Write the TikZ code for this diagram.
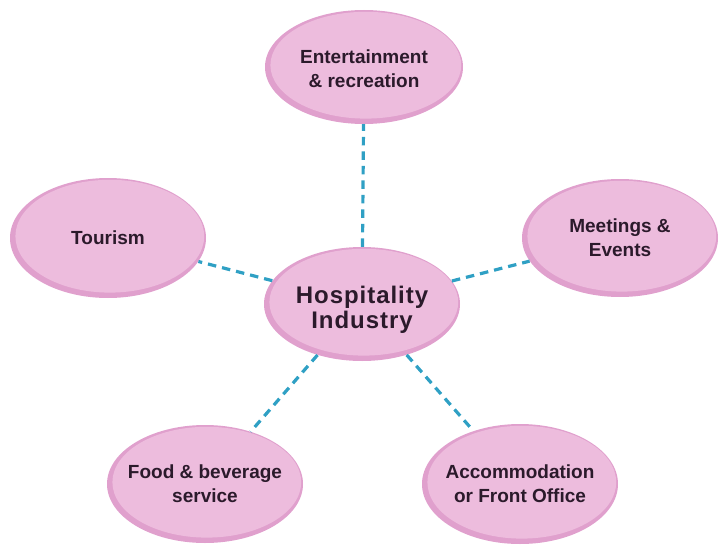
\documentclass[tikz,border=0pt]{standalone}
\usepackage{fontspec}
\setmainfont{Liberation Sans}
\usetikzlibrary{shapes.geometric}
\definecolor{rim}{HTML}{E0A0CD}
\definecolor{petal}{HTML}{EDBCDD}
\definecolor{ink}{HTML}{2B1A2B}
\definecolor{dashblue}{HTML}{2FA0C4}
\newcommand{\lowered}[2]{\raisebox{-#1}[0pt][0pt]{\begin{tabular}[c]{@{}c@{}}#2\end{tabular}}}
\tikzset{
  bubble/.style 2 args={ellipse, inner sep=-40pt, fill=rim,
    minimum width=#1, minimum height=#2, align=center, text=ink,
    font=\bfseries\fontsize{19}{24}\selectfont,
    path picture={\fill[petal] ([xshift=1.8pt,yshift=1.8pt]path picture bounding box.center)
      ellipse ({#1/2-3.6pt} and {#2/2-3.6pt});}},
  hub/.style={bubble={196pt}{114pt},
    font=\bfseries\addfontfeatures{LetterSpace=4}\fontsize{24}{25}\selectfont},
  link/.style={draw=dashblue, line width=3.2pt, dash pattern=on 8.5pt off 6pt}
}
\begin{document}
\begin{tikzpicture}[x=1pt,y=-1pt]
\useasboundingbox (0,0) rectangle (720,551);
\node[hub] (c) at (362,304) {\lowered{13pt}{Hospitality\\Industry}};
\node[bubble={198pt}{114pt}] (ent) at (364,67) {\lowered{8.5pt}{Entertainment\\\& recreation}};
\node[bubble={196pt}{120pt}] (tour) at (108,238) {Tourism};
\node[bubble={196pt}{118pt}] (meet) at (620,238) {Meetings \&\\Events};
\node[bubble={196pt}{118pt}] (food) at (205,484) {Food \& beverage\\service};
\node[bubble={196pt}{120pt}] (acc) at (520,484) {Accommodation\\or Front Office};
\draw[link] (c) -- (ent);
\draw[link] (c) -- (tour);
\draw[link] (c) -- (meet);
\draw[link] (c) -- (food);
\draw[link] (c) -- (acc);
\end{tikzpicture}
\end{document}
